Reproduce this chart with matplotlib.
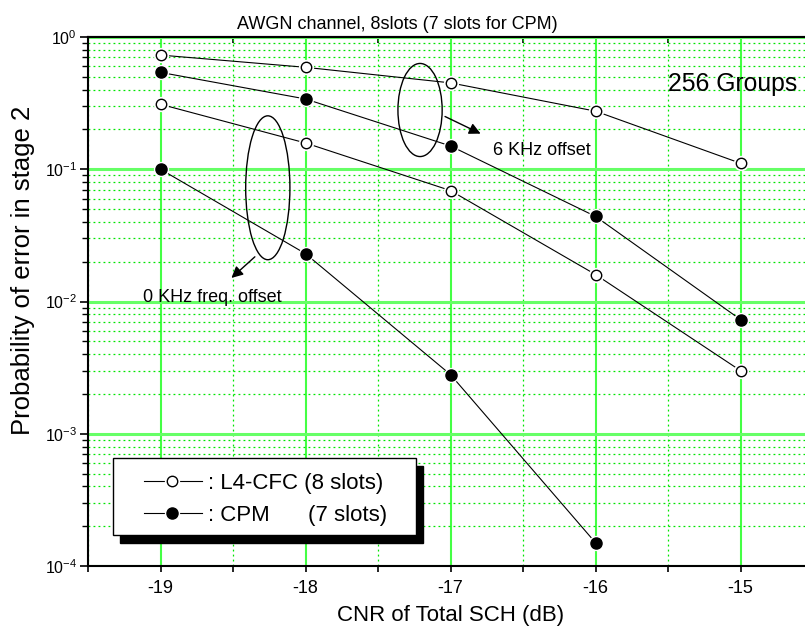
import matplotlib
matplotlib.use("Agg")
import matplotlib.pyplot as plt
import numpy as np
from matplotlib.patches import Ellipse, Rectangle
from matplotlib.lines import Line2D
from matplotlib.ticker import LogLocator, MultipleLocator, NullFormatter

plt.rcParams["font.family"] = ["Liberation Sans", "DejaVu Sans"]
plt.rcParams["axes.unicode_minus"] = False
plt.rcParams["mathtext.default"] = "regular"

# data
cnr = [-19, -18, -17, -16, -15]
cfc_6k = [0.73, 0.59, 0.45, 0.275, 0.111]      # L4-CFC, 6 KHz offset
cpm_6k = [0.54, 0.34, 0.15, 0.044, 0.0073]     # CPM, 6 KHz offset
cfc_0k = [0.31, 0.158, 0.069, 0.016, 0.003]    # L4-CFC, 0 KHz offset
cnr_cpm_0k = [-19, -18, -17, -16]
cpm_0k = [0.1, 0.023, 0.0028, 1.5e-4]         # CPM, 0 KHz offset

fig = plt.figure(figsize=(8.05, 6.41), dpi=100)
ax = fig.add_axes([88 / 805, 75 / 641, 725 / 805, 529 / 641])

ax.set_yscale("log")
ax.set_xlim(-19.5, -14.5)
ax.set_ylim(1e-4, 1)

major_green = "#66ff66"
minor_green = "#00e600"
ax.xaxis.set_major_locator(MultipleLocator(1))
ax.xaxis.set_minor_locator(MultipleLocator(0.5))
ax.yaxis.set_major_locator(LogLocator(base=10, numticks=10))
ax.yaxis.set_minor_locator(LogLocator(base=10, subs=np.arange(2, 10), numticks=20))
ax.yaxis.set_minor_formatter(NullFormatter())
ax.xaxis.grid(True, which="major", color="#44ff44", lw=1.5, ls="-")
ax.yaxis.grid(True, which="major", color=major_green, lw=2.2, ls="-")
ax.grid(True, which="minor", color=minor_green, lw=0.9, ls=(0, (1.5, 2.5)))
ax.set_axisbelow(True)
ax.tick_params(which="major", direction="out", length=6, width=1.2)
ax.tick_params(axis="x", which="both", length=4.5, width=1.2, pad=5.5, labelsize=13)
ax.tick_params(axis="y", which="major", labelsize=11.5, pad=2)
ax.tick_params(axis="y", which="minor", direction="out", length=4, width=1)
for s in ax.spines.values():
    s.set_linewidth(1.5)

# top axis: inward ticks at every half dB, no labels
top = ax.secondary_xaxis("top")
top.xaxis.set_major_locator(MultipleLocator(0.5))
top.tick_params(direction="in", length=4.5, width=1.2, labeltop=False)
top.spines["top"].set_linewidth(1.5)


def series(x, y, filled):
    ax.plot(x, y, color="black", lw=0.8, zorder=3)
    ax.plot(x, y, ls="none", marker="o", ms=10, mfc="white", mec="white", zorder=4)
    ax.plot(x, y, ls="none", marker="o", ms=8 if filled else 7.5,
            mfc="black" if filled else "white", mec="black", mew=1, zorder=5)


series(cnr, cfc_6k, False)
series(cnr, cpm_6k, True)
series(cnr, cfc_0k, False)
series(cnr_cpm_0k, cpm_0k, True)

ax.set_xlabel("CNR of Total SCH (dB)", fontsize=16, labelpad=6)
ax.set_ylabel("Probability of error in stage 2", fontsize=18.5)
ax.yaxis.set_label_coords(-0.073, 0.558)
ax.set_title("AWGN channel, 8slots (7 slots for CPM)", fontsize=13, pad=6, x=0.427)

# annotations
ax.add_patch(Ellipse((0.458, 0.862), 0.061, 0.176, transform=ax.transAxes,
                     fill=False, ec="black", lw=1, zorder=6))
ax.add_patch(Ellipse((0.248, 0.715), 0.061, 0.272, transform=ax.transAxes,
                     fill=False, ec="black", lw=1, zorder=6))
ax.annotate("", xy=(0.545, 0.815), xytext=(0.489, 0.852), xycoords="axes fraction",
            arrowprops=dict(arrowstyle="-|>", color="black", lw=1, mutation_scale=17), zorder=6)
ax.annotate("", xy=(0.195, 0.541), xytext=(0.233, 0.588), xycoords="axes fraction",
            arrowprops=dict(arrowstyle="-|>", color="black", lw=1, mutation_scale=17), zorder=6)
ax.text(0.558, 0.777, "6 KHz offset", transform=ax.transAxes, fontsize=13,
        va="baseline", ha="left", zorder=6)
ax.text(0.0759, 0.4985, "0 KHz freq. offset", transform=ax.transAxes, fontsize=13,
        va="baseline", ha="left", zorder=6)
ax.text(0.800, 0.8985, "256 Groups", transform=ax.transAxes, fontsize=17.8,
        va="baseline", ha="left", zorder=6)

# legend box with black drop shadow
ax.add_patch(Rectangle((0.0441, 0.0435), 0.4176, 0.1456, transform=ax.transAxes,
                       fc="black", ec="black", zorder=7))
ax.add_patch(Rectangle((0.0345, 0.0586), 0.4176, 0.1456, transform=ax.transAxes,
                       fc="white", ec="black", lw=1, zorder=8))
for ym, yb, filled, lab in [(0.1607, 0.145, False, ": L4-CFC (8 slots)"),
                            (0.0996, 0.0856, True, ": CPM")]:
    ax.add_line(Line2D([0.077, 0.157], [ym, ym], transform=ax.transAxes,
                       color="black", lw=0.8, zorder=9))
    ax.add_line(Line2D([0.116], [ym], transform=ax.transAxes, ls="none", marker="o",
                       ms=10, mfc="white", mec="white", zorder=9))
    ax.add_line(Line2D([0.116], [ym], transform=ax.transAxes, ls="none", marker="o",
                       ms=8 if filled else 7.5, mfc="black" if filled else "white",
                       mec="black", zorder=10))
    ax.text(0.166, yb, lab, transform=ax.transAxes, fontsize=16, va="baseline",
            ha="left", zorder=10)
ax.text(0.304, 0.0856, "(7 slots)", transform=ax.transAxes, fontsize=16,
        va="baseline", ha="left", zorder=10)

fig.savefig("out.png", dpi=100)
